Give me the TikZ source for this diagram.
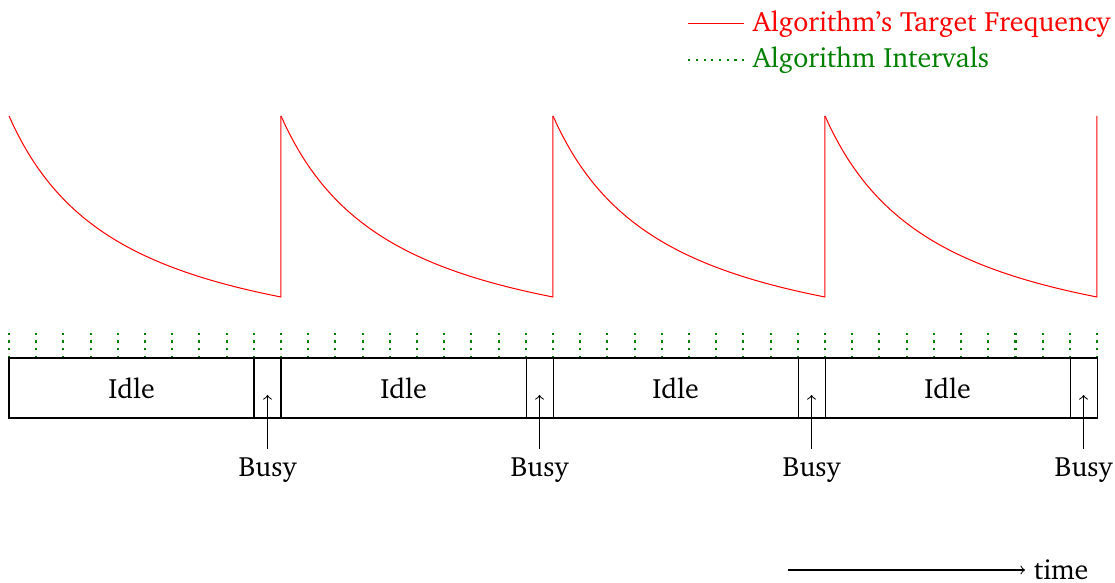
\documentclass[tikz,border=0pt]{standalone}
\usepackage[T1]{fontenc}
\usepackage{charter}
\tikzset{
  freq/.style={red},
  interval/.style={green!50!black, line width=0.85pt, dash pattern=on 0.85pt off 2.2pt},
}
\begin{document}
\begin{tikzpicture}[x=0.3937pt,y=-0.3937pt,font=\fontsize{11}{13}\selectfont]
  \useasboundingbox (0,0) rectangle (1115,583);
  % legend
  \coordinate (lf0) at (688,24);
  \coordinate (li0) at (688,60);
  \node[anchor=west, red] (legfreq) at (744,24) {Algorithm's Target Frequency};
  \node[anchor=west, green!50!black] (legint) at (744,60) {Algorithm Intervals};
  \draw[freq] (lf0) -- (legfreq.west);
  \draw[interval] (li0) -- (legint.west);
  % target frequency
  \foreach \k in {0,...,3} {
    \draw[freq] plot[domain=0:1, samples=60]
      ({9+272*\k+272*\x},{116+181*3.39*\x/(1+2.39*\x)}) -- ++(0,-181);
  }
  % intervals
  \foreach \i in {0,...,40}
    \draw[interval] (9+27.2*\i,358) -- (9+27.2*\i,330);
  % idle / busy
  \foreach \k in {0,...,3} {
    \draw (9+272*\k,358) rectangle (254+272*\k,418);
    \draw (254+272*\k,358) rectangle (281+272*\k,418);
    \node (idle\k) at (131.5+272*\k,388) {Idle};
    \node (busy\k) at (267.5+272*\k,470) {Busy};
    \coordinate (tip\k) at (267.5+272*\k,395);
    \draw[->] (busy\k) -- (tip\k);
  }
  % time
  \coordinate (t0) at (788,570);
  \node[anchor=west] (time) at (1025,570) {time};
  \draw[->] (t0) -- (time.west);
\end{tikzpicture}
\end{document}
